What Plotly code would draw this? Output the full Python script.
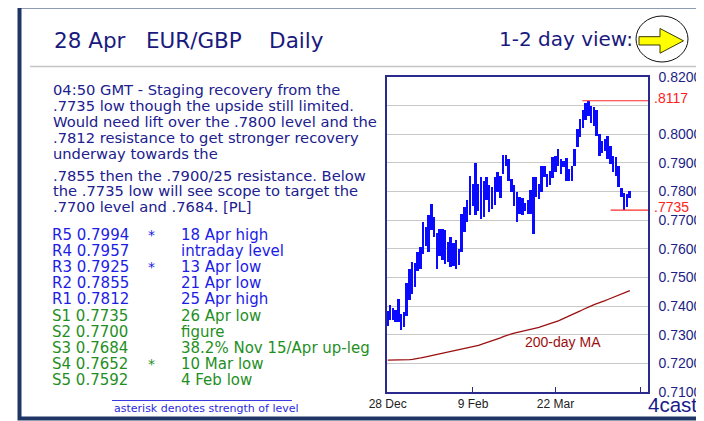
import plotly.graph_objects as go
import pandas as pd

# ---------------- data ----------------
dates = pd.bdate_range("2015-12-28", "2016-04-28")  # 89 trading days

high = [0.7384, 0.7405, 0.7392, 0.7386, 0.7426, 0.7372, 0.7380, 0.7482, 0.7528, 0.7554,
        0.7552, 0.7588, 0.7608, 0.7695, 0.7675, 0.7718, 0.7757, 0.7712, 0.7655, 0.7668,
        0.7670, 0.7665, 0.7625, 0.7640, 0.7622, 0.7630, 0.7600, 0.7720, 0.7745, 0.7769,
        0.7855, 0.7826, 0.7900, 0.7826, 0.7850, 0.7838, 0.7852, 0.7822, 0.7815, 0.7852,
        0.7867, 0.7855, 0.7927, 0.7928, 0.7915, 0.7845, 0.7822, 0.7800, 0.7780, 0.7778,
        0.7760, 0.7770, 0.7806, 0.7850, 0.7852, 0.7825, 0.7888, 0.7890, 0.7862, 0.7872,
        0.7920, 0.7925, 0.7948, 0.7912, 0.7906, 0.7918, 0.7878, 0.7888, 0.7948, 0.8020,
        0.8055, 0.8084, 0.8110, 0.8117, 0.8100, 0.8095, 0.8086, 0.8000, 0.7975, 0.7985,
        0.7994, 0.7960, 0.7925, 0.7920, 0.7890, 0.7812, 0.7795, 0.7790, 0.7801]

low = [0.7330, 0.7352, 0.7350, 0.7344, 0.7345, 0.7318, 0.7326, 0.7366, 0.7420, 0.7442,
       0.7465, 0.7522, 0.7530, 0.7582, 0.7610, 0.7590, 0.7665, 0.7640, 0.7528, 0.7575,
       0.7560, 0.7548, 0.7555, 0.7535, 0.7540, 0.7528, 0.7545, 0.7590, 0.7660, 0.7694,
       0.7717, 0.7750, 0.7717, 0.7733, 0.7705, 0.7710, 0.7770, 0.7730, 0.7738, 0.7752,
       0.7798, 0.7778, 0.7861, 0.7890, 0.7838, 0.7800, 0.7748, 0.7694, 0.7720, 0.7718,
       0.7733, 0.7722, 0.7720, 0.7652, 0.7782, 0.7775, 0.7798, 0.7850, 0.7815, 0.7822,
       0.7846, 0.7868, 0.7890, 0.7862, 0.7884, 0.7838, 0.7838, 0.7838, 0.7888, 0.7957,
       0.7992, 0.8023, 0.8051, 0.8063, 0.8040, 0.8030, 0.7993, 0.7925, 0.7935, 0.7940,
       0.7915, 0.7895, 0.7870, 0.7855, 0.7815, 0.7780, 0.7735, 0.7745, 0.7776]

ma200 = [0.7211, 0.7211, 0.7211, 0.7211, 0.7211, 0.7211, 0.7212, 0.7212, 0.7213, 0.7214,
         0.7215, 0.7217, 0.7219, 0.7221, 0.7223, 0.7225, 0.7227, 0.7229, 0.7231, 0.7233,
         0.7235, 0.7237, 0.7239, 0.7241, 0.7243, 0.7245, 0.7247, 0.7249, 0.7251, 0.7253,
         0.7255, 0.7257, 0.7260, 0.7263, 0.7266, 0.7269, 0.7272, 0.7275, 0.7278, 0.7281,
         0.7285, 0.7289, 0.7293, 0.7297, 0.7300, 0.7303, 0.7306, 0.7308, 0.7311, 0.7313,
         0.7315, 0.7317, 0.7319, 0.7321, 0.7323, 0.7326, 0.7329, 0.7332, 0.7335, 0.7338,
         0.7341, 0.7344, 0.7348, 0.7353, 0.7357, 0.7361, 0.7365, 0.7370, 0.7374, 0.7379,
         0.7383, 0.7388, 0.7393, 0.7397, 0.7401, 0.7405, 0.7408, 0.7412, 0.7416, 0.7419,
         0.7423, 0.7427, 0.7431, 0.7435, 0.7439, 0.7443, 0.7447, 0.7451, 0.7454]

tick_index = [0, 31, 61, 92]
tick_text = ["28 Dec", "9 Feb", "22 Mar", ""]
y_ticks = [0.71, 0.72, 0.73, 0.74, 0.75, 0.76, 0.77, 0.78, 0.79, 0.80, 0.81, 0.82]
y_tick_text = ["0.7100", "0.7200", "0.7300", "0.7400", "0.7500", "0.7600",
               "0.7700", "0.7800", "0.7900", "0.8000", "", "0.8200"]

marked_high = 0.8117
marked_low = 0.7735

title_text = "28 Apr\u00a0\u00a0\u00a0EUR/GBP\u00a0\u00a0\u00a0\u00a0Daily"
view_text = "1-2 day view:"

comment_lines = [
    "04:50 GMT - Staging recovery from the",
    ".7735 low though the upside still limited.",
    "Would need lift over the .7800 level and the",
    ".7812 resistance to get stronger recovery",
    "underway towards the",
    ".7855 then the .7900/25 resistance. Below",
    "the .7735 low will see scope to target the",
    ".7700 level and .7684. [PL]",
]

level_names = ["R5", "R4", "R3", "R2", "R1", "S1", "S2", "S3", "S4", "S5"]
level_values = ["0.7994", "0.7957", "0.7925", "0.7855", "0.7812",
                "0.7735", "0.7700", "0.7684", "0.7652", "0.7592"]
level_stars = ["*", "", "*", "", "", "", "", "", "*", ""]
level_notes = ["18 Apr high", "intraday level", "13 Apr low", "21 Apr low", "25 Apr high",
               "26 Apr low", "figure", "38.2% Nov 15/Apr up-leg", "10 Mar low", "4 Feb low"]

# ---------------- layout helpers ----------------
# page body adds an 8px offset; margins chosen so the plot lands at screen 387..648 x 77..392
W, H = 704, 421
OFF = 8
PL, PT, PW, PH = 387, 77, 261, 315          # plot area in screen pixels
L = PL - OFF
T = PT - OFF
R = W - L - PW
B = H - T - PH


def px(x):
    return (x - PL) / PW


def py(y):
    return (PT + PH - y) / PH


SANS = "Liberation Sans, Arial, sans-serif"
WIDE = "DejaVu Sans, Verdana, sans-serif"
NAVY = "#1e1e86"
AXIS = "#2a2a8c"

idx = list(range(len(dates)))

fig = go.Figure()
fig.add_trace(go.Bar(
    x=idx, y=[h - l for h, l in zip(high, low)], base=low, width=0.72,
    marker=dict(color="#0a0aff", line=dict(width=0)), hoverinfo="skip"))
fig.add_trace(go.Scatter(
    x=idx, y=ma200, mode="lines", line=dict(color="#9a1010", width=1.3), hoverinfo="skip"))

shapes = []
annotations = []

# outer frame
shapes.append(dict(type="rect", xref="paper", yref="paper",
                   x0=px(19.5), x1=px(701.5), y0=py(6.5), y1=py(418.5),
                   line=dict(color="#1f3566", width=4), layer="below"))
# separator under title
shapes.append(dict(type="line", xref="paper", yref="paper",
                   x0=px(30), x1=px(700), y0=py(66.5), y1=py(66.5),
                   line=dict(color="#c4c4c4", width=1.5)))
# circle + arrow
shapes.append(dict(type="circle", xref="paper", yref="paper",
                   x0=px(636), x1=px(688), y0=py(16), y1=py(62),
                   line=dict(color="#111111", width=1)))
arrow_pts = [(639, 36.7), (660, 36.7), (660, 28.5), (683.5, 40.8),
             (660, 53.2), (660, 45), (639, 45)]
path = "M " + " L ".join(f"{px(a):.5f},{py(b):.5f}" for a, b in arrow_pts) + " Z"
shapes.append(dict(type="path", xref="paper", yref="paper", path=path,
                   fillcolor="#ffff00", line=dict(color="#3a3a00", width=1)))
# red marker lines
shapes.append(dict(type="line", xref="x", yref="y", x0=70.7, x1=94.6,
                   y0=marked_high, y1=marked_high, line=dict(color="#ff2a2a", width=1.2)))
shapes.append(dict(type="line", xref="x", yref="y", x0=81, x1=94.6,
                   y0=marked_low, y1=marked_low, line=dict(color="#ff2a2a", width=1.2)))
# underline above footnote
shapes.append(dict(type="line", xref="paper", yref="paper",
                   x0=px(112), x1=px(292), y0=py(400.5), y1=py(400.5),
                   line=dict(color="#3a3ae0", width=1)))


def txt(x, y, s, size, color, family=WIDE, xanchor="left"):
    annotations.append(dict(xref="paper", yref="paper", x=px(x), y=py(y), text=s,
                            showarrow=False, xanchor=xanchor, yanchor="middle",
                            font=dict(family=family, size=size, color=color)))


txt(52, 41, title_text, 21.5, "#1a1a7e")
txt(635, 39, view_text, 20, "#1a1a7e", xanchor="right")

comment_y = [90, 105.5, 121.5, 137.5, 153, 175, 190.5, 206]
for yy, line in zip(comment_y, comment_lines):
    txt(51, yy, line, 14.7, "#20208e")

for k, (n, v, s, note) in enumerate(zip(level_names, level_values, level_stars, level_notes)):
    col = "#1c1ce6" if n.startswith("R") else "#1f8f1f"
    yy = 235 + 16.1 * k
    txt(50, yy, f"{n} {v}", 15, col)
    if s:
        txt(146, yy, s, 14, col)
    txt(179, yy, note, 15, col)

txt(112, 408, "asterisk denotes strength of level", 11, "#2a2ae0")
txt(646, 404, "4cast", 20.5, "#1a1a8a", family=SANS)
txt(523, 342, "200-day MA", 14, "#9a1010", family=SANS)

for val in (marked_high, marked_low):
    annotations.append(dict(xref="paper", yref="y", x=1, y=val, text=f"{val:.4f}"[1:],
                            showarrow=False, xanchor="left", yanchor="middle",
                            xshift=4, yshift=3,
                            font=dict(family=SANS, size=14, color="#ff2020")))

fig.update_layout(
    width=W, height=H, margin=dict(l=L, r=R, t=T, b=B, pad=0, autoexpand=False),
    paper_bgcolor="white", plot_bgcolor="white", showlegend=False,
    bargap=0, shapes=shapes, annotations=annotations,
    font=dict(family=SANS),
    xaxis=dict(range=[-0.25, 94.6], tickvals=tick_index, ticktext=tick_text,
               showgrid=False, zeroline=False, showline=True, mirror=True,
               linecolor=AXIS, linewidth=1.5, ticks="inside", ticklen=5,
               tickcolor=AXIS, tickfont=dict(size=12, color="#222222"),
               automargin=False),
    yaxis=dict(range=[0.71, 0.82], tickvals=y_ticks, ticktext=y_tick_text, side="right",
               showgrid=True, gridcolor="#c8c8c8", gridwidth=1, zeroline=False,
               showline=True, mirror=True, linecolor=AXIS, linewidth=1.5,
               ticks="", ticklabelstandoff=6, tickfont=dict(size=14, color=NAVY),
               automargin=False),
)

fig.write_html("out.html", config={"displayModeBar": False})
